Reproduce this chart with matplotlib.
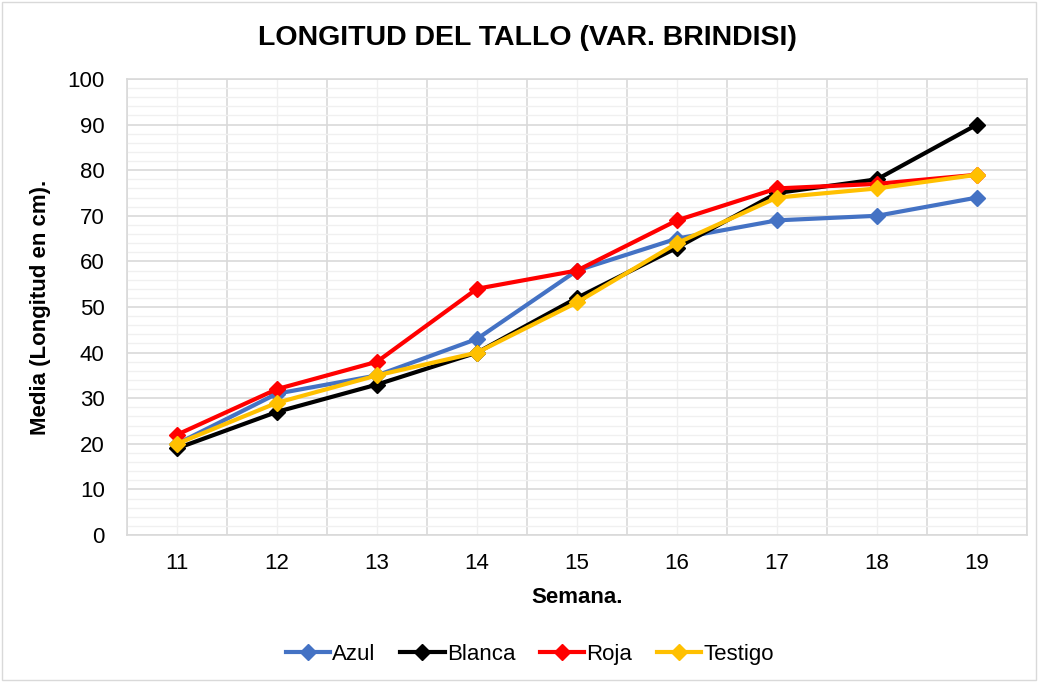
import matplotlib
matplotlib.use("Agg")
import matplotlib.pyplot as plt
from matplotlib.patches import Rectangle
from matplotlib.ticker import MultipleLocator

plt.rcParams['font.family'] = ['Liberation Sans', 'DejaVu Sans']

semanas = [11, 12, 13, 14, 15, 16, 17, 18, 19]
azul = [20, 31, 35, 43, 58, 65, 69, 70, 74]
blanca = [19, 27, 33, 40, 52, 63, 75, 78, 90]
roja = [22, 32, 38, 54, 58, 69, 76, 77, 79]
testigo = [20, 29, 35, 40, 51, 64, 74, 76, 79]

series = [
    ('Azul', azul, '#4472c4'),
    ('Blanca', blanca, '#000000'),
    ('Roja', roja, '#ff0000'),
    ('Testigo', testigo, '#ffc000'),
]

fig = plt.figure(figsize=(10.39, 6.82), dpi=100)
ax = fig.add_axes([0.1222, 0.2155, 0.8663, 0.6687])

for name, vals, color in series:
    ax.plot(semanas, vals, color=color, linewidth=3, marker='D',
            markersize=8.5, label=name, zorder=3)

ax.set_xlim(semanas[0] - 0.5, semanas[-1] + 0.5)
ax.set_ylim(0, 100)
ax.set_xticks(semanas)
ax.xaxis.set_minor_locator(MultipleLocator(1, offset=0.5))
ax.yaxis.set_major_locator(MultipleLocator(10))
ax.yaxis.set_minor_locator(MultipleLocator(2))

ax.grid(which='major', axis='y', color='#d9d9d9', linewidth=1.2)
ax.grid(which='minor', axis='y', color='#f0f0f0', linewidth=1.0)
ax.grid(which='minor', axis='x', color='#d9d9d9', linewidth=1.2)
ax.grid(which='major', axis='x', color='#f0f0f0', linewidth=1.0)
ax.set_axisbelow(True)

ax.tick_params(which='both', length=0, labelsize=16)
ax.tick_params(axis='x', pad=13)
ax.tick_params(axis='y', pad=16)
for s in ax.spines.values():
    s.set_color('#d9d9d9')
    s.set_linewidth(1.2)

ax.set_xlabel('Semana.', fontsize=16, fontweight='bold', labelpad=9)
ax.set_ylabel('Media (Longitud en cm).', fontsize=16, fontweight='bold', labelpad=12)
fig.text(0.508, 0.945, 'LONGITUD DEL TALLO (VAR. BRINDISI)', ha='center', va='center',
         fontsize=20.5, fontweight='bold')

fig.legend(loc='center', bbox_to_anchor=(0.51, 0.04), ncol=4, frameon=False,
           fontsize=16, handlelength=2.0, handletextpad=0.1, columnspacing=1.1)

fig.patches.append(Rectangle((0.002, 0.003), 0.995, 0.994, transform=fig.transFigure,
                             fill=False, edgecolor='#d9d9d9', linewidth=1))

fig.savefig('out.png', dpi=100)
